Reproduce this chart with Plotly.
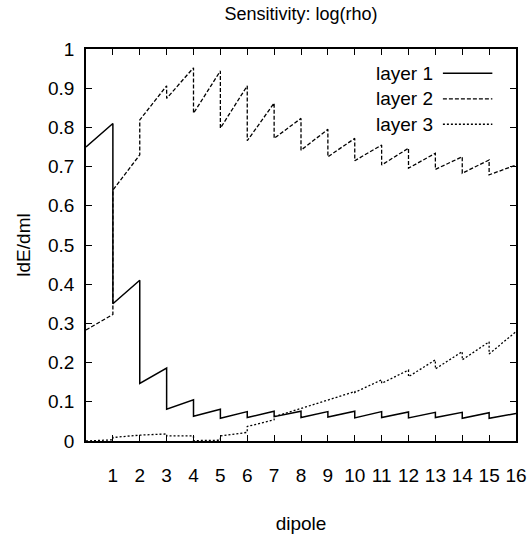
import plotly.graph_objects as go

# Segment start/end values for each dipole interval [k, k+1], k = 0..15
layer1_start = [0.75, 0.35, 0.147, 0.081, 0.063, 0.058, 0.060, 0.062, 0.060, 0.061, 0.059, 0.060, 0.059, 0.060, 0.058, 0.058]
layer1_end   = [0.81, 0.41, 0.186, 0.105, 0.081, 0.075, 0.076, 0.076, 0.075, 0.076, 0.075, 0.074, 0.073, 0.073, 0.072, 0.070]

layer2_start = [0.283, 0.640, 0.819, 0.874, 0.836, 0.798, 0.766, 0.772, 0.742, 0.725, 0.715, 0.704, 0.696, 0.693, 0.683, 0.679]
layer2_end   = [0.323, 0.730, 0.906, 0.952, 0.944, 0.906, 0.862, 0.823, 0.795, 0.772, 0.755, 0.747, 0.734, 0.725, 0.717, 0.704]

layer3_start = [0.000, 0.009, 0.015, 0.013, 0.001, 0.013, 0.037, 0.062, 0.083, 0.105, 0.124, 0.147, 0.164, 0.184, 0.207, 0.222]
layer3_end   = [0.003, 0.015, 0.018, 0.013, 0.002, 0.022, 0.054, 0.083, 0.105, 0.126, 0.156, 0.181, 0.207, 0.228, 0.253, 0.279]

x_ticks = list(range(1, 17))
y_ticks = [i / 10 for i in range(0, 11)]
y_tick_labels = ["0", "0.1", "0.2", "0.3", "0.4", "0.5", "0.6", "0.7", "0.8", "0.9", "1"]

series_names = ["layer 1", "layer 2", "layer 3"]
series_dash = ["solid", "4px,2px", "2px,2px"]
series_width = [1.5, 1.3, 1.3]


def sawtooth(starts, ends):
    xs, ys = [], []
    for k, (s, e) in enumerate(zip(starts, ends)):
        xs += [k, k + 1]
        ys += [s, e]
    return xs, ys


FONT = "Liberation Sans, Arial, sans-serif"
fig = go.Figure()
for name, st, en, dash, w in zip(series_names,
                                 [layer1_start, layer2_start, layer3_start],
                                 [layer1_end, layer2_end, layer3_end],
                                 series_dash, series_width):
    xs, ys = sawtooth(st, en)
    fig.add_trace(go.Scatter(x=xs, y=ys, mode="lines", name=name,
                             line=dict(color="black", width=w, dash=dash),
                             showlegend=False))

# gnuplot-style key: text then line sample
legend_y = [0.938, 0.873, 0.808]
for name, dash, w, yy in zip(series_names, series_dash, series_width, legend_y):
    fig.add_annotation(xref="paper", yref="paper", x=0.812, y=yy, text=name,
                       showarrow=False, xanchor="right", yanchor="middle",
                       font=dict(family=FONT, size=19, color="black"))
    fig.add_shape(type="line", xref="paper", yref="paper",
                  x0=0.83, x1=0.945, y0=yy, y1=yy,
                  line=dict(color="black", width=w, dash=dash))

axis_common = dict(showgrid=False, zeroline=False, showline=True, linecolor="black",
                   linewidth=1.5, mirror="ticks", ticks="inside", tickcolor="black",
                   ticklen=6, tickwidth=1.2, automargin=False,
                   tickfont=dict(family=FONT, size=19, color="black"))

fig.update_xaxes(range=[0, 16], tickvals=x_ticks, ticktext=[str(v) for v in x_ticks],
                 title=dict(text="dipole", font=dict(family=FONT, size=19, color="black"),
                            standoff=32),
                 ticklabelstandoff=16, **axis_common)
fig.update_yaxes(range=[0, 1], tickvals=y_ticks, ticktext=y_tick_labels,
                 title=dict(text="ldE/dml", font=dict(family=FONT, size=19, color="black"),
                            standoff=12),
                 ticklabelstandoff=6, **axis_common)

fig.update_layout(
    width=528, height=536,
    margin=dict(l=86, r=12, t=49, b=95),
    paper_bgcolor="white", plot_bgcolor="white",
    title=dict(text="Sensitivity: log(rho)", x=0.57, xanchor="center", y=0.974,
               yanchor="middle", font=dict(family=FONT, size=18, color="black")),
    showlegend=False,
)

fig.write_html("out.html")
